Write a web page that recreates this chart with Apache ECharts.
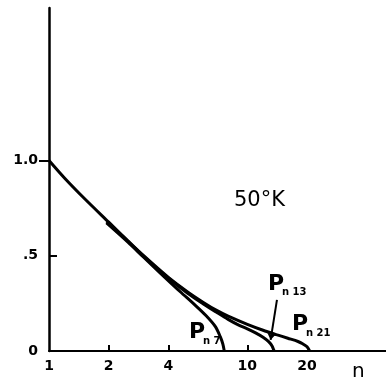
<!DOCTYPE html>
<html>
<head>
<meta charset="utf-8">
<script src="https://cdn.jsdelivr.net/npm/echarts@6/dist/echarts.min.js"></script>
<style>
  html, body { margin: 0; padding: 0; background: #fff; }
  #main { width: 386px; height: 379px; }
</style>
</head>
<body>
<div id="main"></div>
<script>
// curves: [n, P]
var pn21 = [[1, 1.0], [1.2, 0.907], [1.5, 0.803], [2, 0.676], [2.5, 0.578], [3, 0.5], [4, 0.386],
  [5, 0.31], [6, 0.255], [7, 0.213], [8, 0.183], [10, 0.14], [12, 0.109], [14, 0.086],
  [16, 0.067], [18, 0.05], [19, 0.038], [20, 0.022], [20.6, 0]];
var pn13 = [[1.95, 0.678], [2.5, 0.576], [3, 0.497], [4, 0.382], [5, 0.303], [6, 0.247], [7, 0.203],
  [8, 0.166], [9, 0.137], [10, 0.116], [11, 0.095], [12, 0.072], [12.8, 0.049], [13.3, 0.027], [13.65, 0]];
var pn7 = [[1.95, 0.672], [2.5, 0.571], [3, 0.492], [3.64, 0.409], [4.59, 0.311], [5.4, 0.245],
  [6.2, 0.185], [6.9, 0.128], [7.31, 0.074], [7.52, 0.037], [7.65, 0]];

var xTickLabels = [1, 2, 4, 10, 20];
var xTickMarks = [2, 4, 10];
var yTickLabels = [0, 0.5, 1];

var chart = echarts.init(document.getElementById('main'));

var font = 'DejaVu Sans';
var curveStyle = { color: '#000', width: 3 };

var option = {
  backgroundColor: '#fff',
  animation: false,
  grid: { left: 49, right: 0, top: 8, bottom: 28 },
  xAxis: {
    type: 'log',
    min: 1,
    max: 50,
    axisLine: { lineStyle: { color: '#000', width: 2 } },
    axisTick: { inside: true, length: 6, customValues: xTickMarks, lineStyle: { color: '#000', width: 2 } },
    axisLabel: { customValues: xTickLabels, color: '#000', fontFamily: font, fontWeight: 'bold', fontSize: 14, margin: 8 },
    splitLine: { show: false },
    minorTick: { show: false }
  },
  yAxis: [{
    type: 'value',
    min: 0,
    max: 1.8,
    axisLine: { show: true, lineStyle: { color: '#000', width: 2.5 } },
    axisTick: { inside: false, length: 10, customValues: [1], lineStyle: { color: '#000', width: 2 } },
    axisLabel: {
      customValues: yTickLabels, color: '#000', fontFamily: font, fontWeight: 'bold', fontSize: 14, margin: 11,
      formatter: function (v) { return v === 0 ? '0' : (v === 0.5 ? '.5' : '1.0'); }
    },
    splitLine: { show: false }
  }, {
    type: 'value',
    min: 0,
    max: 1.8,
    position: 'left',
    axisLine: { show: false },
    axisTick: { show: true, inside: true, length: 8, customValues: [0.5], lineStyle: { color: '#000', width: 2 } },
    axisLabel: { show: false },
    splitLine: { show: false }
  }],
  series: [
    { name: 'Pn21', type: 'line', data: pn21, smooth: 0.3, showSymbol: false,
      lineStyle: curveStyle },
    { name: 'Pn13', type: 'line', data: pn13, smooth: 0.3, showSymbol: false,
      lineStyle: curveStyle,
      markLine: {
        silent: true,
        symbol: ['none', 'arrow'],
        symbolSize: 7,
        label: { show: false },
        lineStyle: { color: '#000', width: 2, type: 'solid', curveness: -0.2 },
        data: [[{ coord: [14.1, 0.268] }, { coord: [13.1, 0.058] }]]
      } },
    { name: 'Pn7', type: 'line', data: pn7, smooth: 0.3, showSymbol: false,
      lineStyle: curveStyle }
  ],
  graphic: [
    { type: 'text', x: 234, y: 201, style: { text: '50°K', font: '21px "DejaVu Sans"', fill: '#000', verticalAlign: 'middle' } },
    { type: 'text', x: 189, y: 332, style: { text: 'P', font: 'bold 22px "DejaVu Sans"', fill: '#000', verticalAlign: 'middle' } },
    { type: 'text', x: 203, y: 341, style: { text: 'n 7', font: 'bold 10px "DejaVu Sans"', fill: '#000', verticalAlign: 'middle' } },
    { type: 'text', x: 268, y: 284, style: { text: 'P', font: 'bold 22px "DejaVu Sans"', fill: '#000', verticalAlign: 'middle' } },
    { type: 'text', x: 282, y: 292, style: { text: 'n 13', font: 'bold 10px "DejaVu Sans"', fill: '#000', verticalAlign: 'middle' } },
    { type: 'text', x: 292, y: 324, style: { text: 'P', font: 'bold 22px "DejaVu Sans"', fill: '#000', verticalAlign: 'middle' } },
    { type: 'text', x: 306, y: 333, style: { text: 'n 21', font: 'bold 10px "DejaVu Sans"', fill: '#000', verticalAlign: 'middle' } },
    { type: 'text', x: 352, y: 372, style: { text: 'n', font: '20px "DejaVu Sans"', fill: '#000', verticalAlign: 'middle' } }
  ]
};

chart.setOption(option);
</script>
</body>
</html>
